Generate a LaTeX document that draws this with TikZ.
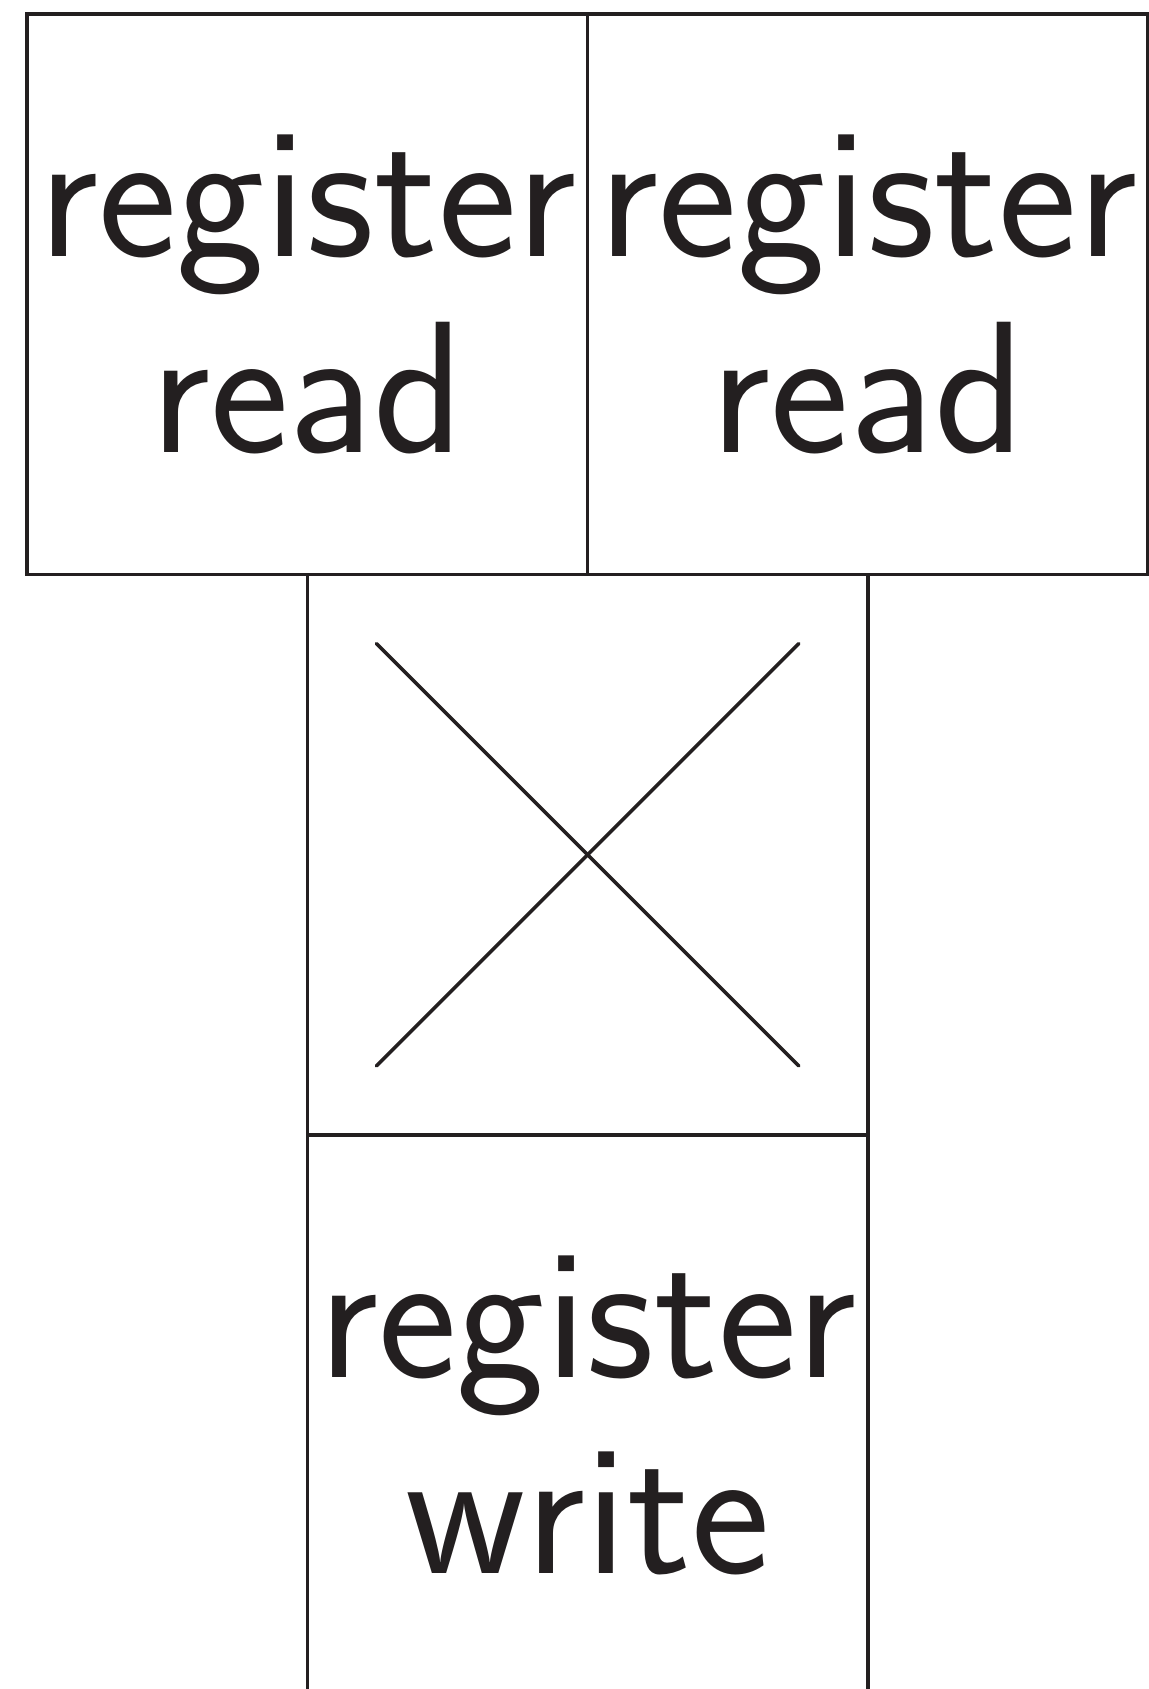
\documentclass[tikz,border=0pt]{standalone}
\usepackage{tikz}
\usetikzlibrary{positioning}

\definecolor{ink}{RGB}{35,31,32}

\begin{document}
\begin{tikzpicture}[
    stage/.style={draw=ink, text=ink, rectangle, minimum size=2.256cm, inner sep=0pt, outer sep=0pt,
                  line width=0.4pt, align=center,
                  font=\sffamily\fontsize{21.5}{22.4}\selectfont},
    cross/.style={draw=ink, line width=0.4pt, line cap=round}
]
    \useasboundingbox (-0.109, 0.056) rectangle (4.512, -6.742);

    % --- Register read (two ports side by side) ---
    \node[stage] (rr1) at (1.128, -1.128) {register\\read};
    \node[stage, right=0pt of rr1] (rr2) {register\\read};

    % Empty slot, crossed out
    \node[stage, below=0pt of rr1.south east] (nop) {};
    \draw[cross] (nop.center) ++(-0.85, 0.85) -- ++(1.70, -1.70);
    \draw[cross] (nop.center) ++(0.85, 0.85) -- ++(-1.70, -1.70);

    % --- Register write ---
    \node[stage, below=0pt of nop] (rw) {register\\write};

\end{tikzpicture}
\end{document}
